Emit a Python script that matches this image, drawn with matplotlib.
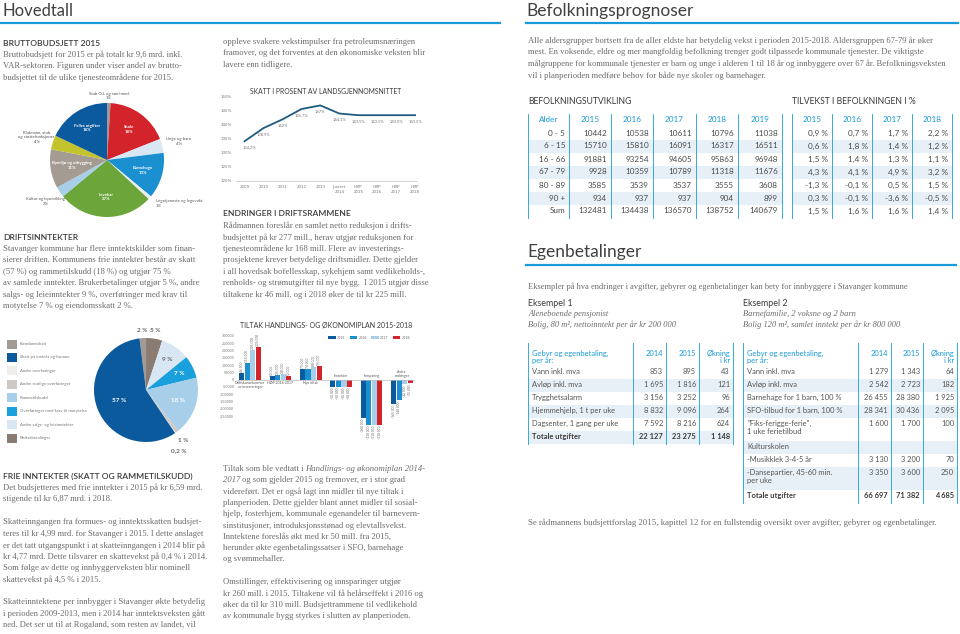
import matplotlib.pyplot as plt
from matplotlib.patches import Rectangle
from matplotlib.lines import Line2D
import numpy as np

# ---------------- data ----------------
budget_labels = ['Stab O.L og særl.med.', 'Skole', 'Unge og barn', 'Barnehage',
                 'Legetjeneste og legevakt', 'Levekår', 'Kultur og byutvikling',
                 'Bymiljø og utbygging', 'Rådmann, stab\nog støttefunksjoner', 'Felles utgifter']
budget_pct = [1, 18, 4, 13, 1, 27, 3, 11, 4, 18]

income_labels = ['Eiendomsskatt', 'Brukerbetalinger', 'Andre salgs- og leieinntekter',
                 'Overføringer med krav til motytelse', 'Rammetilskudd',
                 'Andre statlige overføringer', 'Andre overføringer', 'Skatt på inntekt og formue']
income_pct = [2, 5, 9, 7, 18, 1, 0.2, 57]
legend_order = ['Eiendomsskatt', 'Skatt på inntekt og formue', 'Andre overføringer',
                'Andre statlige overføringer', 'Rammetilskudd',
                'Overføringer med krav til motytelse', 'Andre salgs- og leieinntekter',
                'Brukerbetalinger']

tax_years = ['2009', '2010', '2011', '2012', '2013', 'Justert\n2014',
             'HØP\n2015', 'HØP\n2016', 'HØP\n2017', 'HØP\n2018']
tax_pct = [134.2, 138.9, 142.0, 145.7, 147.0, 144.1, 143.5, 143.5, 143.5, 143.5]

tiltak_groups = ['Driftskonsekvenser\nav investeringer', 'HØP 2014-2017', 'Nye tiltak',
                 'Inntekter', 'Innsparing', 'Andre\nendringer']
tiltak_years = ['2015', '2016', '2017', '2018']
tiltak_2015 = [46000, 22000, 73000, -50000, -260000, -165000]
tiltak_2016 = [115000, 35000, 74000, -50000, -310000, -140000]
tiltak_2017 = [205000, 38000, 88000, -50000, -310000, -32000]
tiltak_2018 = [225000, 22000, 95000, -50000, -310000, -25000]

age_groups = ['0 - 5', '6 - 15', '16 - 66', '67 - 79', '80 - 89', '90 +', 'Sum']
pop_years = ['2015', '2016', '2017', '2018', '2019']
pop_2015 = [10442, 15710, 91881, 9928, 3585, 934, 132481]
pop_2016 = [10538, 15810, 93254, 10359, 3539, 937, 134438]
pop_2017 = [10611, 16091, 94605, 10789, 3537, 937, 136570]
pop_2018 = [10796, 16317, 95863, 11318, 3555, 904, 138752]
pop_2019 = [11038, 16511, 96948, 11676, 3608, 899, 140679]
growth_years = ['2015', '2016', '2017', '2018']
growth_2015 = [0.9, 0.6, 1.5, 4.3, -1.3, 0.3, 1.5]
growth_2016 = [0.7, 1.8, 1.4, 4.1, -0.1, -0.1, 1.6]
growth_2017 = [1.7, 1.4, 1.3, 4.9, 0.5, -3.6, 1.6]
growth_2018 = [2.2, 1.2, 1.1, 3.2, 1.5, -0.5, 1.4]

fee1_items = ['Vann inkl. mva', 'Avløp inkl. mva', 'Trygghetsalarm', 'Hjemmehjelp, 1 t per uke',
              'Dagsenter, 1 gang per uke', 'Totale utgifter']
fee1_2014 = [853, 1695, 3156, 8832, 7592, 22127]
fee1_2015 = [895, 1816, 3252, 9096, 8216, 23275]
fee1_inc = [43, 121, 96, 264, 624, 1148]

fee2_items = ['Vann inkl. mva', 'Avløp inkl. mva', 'Barnehage for 1 barn, 100 %',
              'SFO-tilbud for 1 barn, 100 %', '"Fiks-ferigge-ferie",\n1 uke ferietilbud',
              'Kulturskolen', '-Musikklek 3-4-5 år', '-Dansepartier, 45-60 min.\nper uke',
              'Totale utgifter']
fee2_2014 = [1279, 2542, 26455, 28341, 1600, None, 3130, 3350, 66697]
fee2_2015 = [1343, 2723, 28380, 30436, 1700, None, 3200, 3600, 71382]
fee2_inc = [64, 182, 1925, 2095, 100, None, 70, 250, 4685]

# ---------------- style ----------------
W, H = 960, 634
SERIF = 'Liberation Serif'
SANS = 'Lato'
GREY = '#6e6a6a'
DARK = '#3b3b3b'
BLUE = '#1a9bd7'
SHADE = '#e8f0f7'
C_DARKBLUE = '#0b5a9e'
C_BLUE = '#1a90d0'
C_LIGHTBLUE = '#a8cfea'
C_RED = '#d3242c'
BODY = 6.25
HEAD = 6.1

fig = plt.figure(figsize=(9.6, 6.34), dpi=100)
renderer = fig.canvas.get_renderer()


def fx(x):
    return x / W


def fy(y):
    return 1 - y / H


def txt(x, y, s, size=BODY, color=GREY, family=SERIF, **kw):
    kw.setdefault('va', 'center')
    return fig.text(fx(x), fy(y), s, fontsize=size, color=color, family=family, **kw)


def fit(s, x0, x1, base=6.0, **kw):
    # font size that makes line s run from x0 to x1 (as in the reference)
    t = fig.text(0, 0, s, fontsize=base, family=SERIF, **kw)
    w = t.get_window_extent(renderer).width
    t.remove()
    return base * (x1 - x0) / w


def para(x, y, lines, step=11.45, ref=None, **kw):
    size = BODY
    if ref is not None:
        size = fit(lines[ref[0]], x, ref[1])
    for i, line in enumerate(lines):
        if line:
            txt(x, y + i * step, line, size=size, **kw)
    return size


def heading(x, y, s, size=HEAD):
    txt(x, y, s, size=size, color=DARK, family=SANS, fontweight='semibold')


def hline(x0, x1, y, color=BLUE, lw=1.6):
    fig.add_artist(Line2D([fx(x0), fx(x1)], [fy(y), fy(y)], color=color, lw=lw,
                          transform=fig.transFigure))


def vline(x, y0, y1, color=BLUE, lw=0.6):
    fig.add_artist(Line2D([fx(x), fx(x)], [fy(y0), fy(y1)], color=color, lw=lw,
                          transform=fig.transFigure))


def rect(x0, y0, x1, y1, color):
    fig.add_artist(Rectangle((fx(x0), fy(y1)), (x1 - x0) / W, (y1 - y0) / H,
                             facecolor=color, edgecolor='none', transform=fig.transFigure,
                             zorder=0))


def axes_px(x0, y0, x1, y1):
    return fig.add_axes([fx(x0), fy(y1), (x1 - x0) / W, (y1 - y0) / H])


def num(v):
    return f'{v:,}'.replace(',', ' ')


def pct(v):
    return f'{v:.1f} %'.replace('.', ',')


# ---------------- page headers ----------------
txt(3, 11, 'Hovedtall', size=12, color='#404040', family=SANS)
hline(0, 500, 23)
txt(526, 11, 'Befolkningsprognoser', size=12.5, color='#404040', family=SANS)
hline(526, 958, 23)

# ---------------- left column ----------------
heading(3, 43, 'BRUTTOBUDSJETT 2015')
para(3, 54.5, ['Bruttobudsjett for 2015 er på totalt kr 9,6 mrd. inkl.',
               'VAR-sektoren. Figuren under viser andel av brutto-',
               'budsjettet til de ulike tjenesteområdene for 2015.'])

# pie 1 - brutto budget
ax1 = axes_px(50, 103, 164, 217)
colors1 = ['#9b9b9b', C_RED, '#d8e7f3', C_BLUE, '#e9eef2', '#6ca63b',
           C_LIGHTBLUE, '#a49b93', '#c3c42d', C_DARKBLUE]
wedges, _ = ax1.pie(budget_pct, colors=colors1, startangle=90, counterclock=False,
                    wedgeprops=dict(linewidth=0))
ax1.set_xlim(-1, 1)
ax1.set_ylim(-1, 1)
inside1 = {'Skole': 0.66, 'Barnehage': 0.65, 'Levekår': 0.65,
           'Bymiljø og utbygging': 0.62, 'Felles utgifter': 0.66}
for w, lab, p in zip(wedges, budget_labels, budget_pct):
    ang = np.deg2rad((w.theta1 + w.theta2) / 2)
    r = inside1.get(lab, 1.3)
    col = 'white' if lab in inside1 else '#555555'
    ha = 'center'
    if lab == 'Legetjeneste og legevakt':
        r, ha = 1.15, 'left'
    if lab == 'Stab O.L og særl.med.':
        r = 1.12
    ax1.text(r * np.cos(ang), r * np.sin(ang), f'{lab}\n{p}%', ha=ha, va='center',
             fontsize=3.1, color=col, family=SANS, linespacing=1.15,
             fontweight='bold' if lab in inside1 else 'normal')

heading(3, 237, 'DRIFTSINNTEKTER')
para(3, 249, ['Stavanger kommune har flere inntektskilder som finan-',
              'sierer driften. Kommunens frie inntekter består av skatt',
              '(57 %) og rammetilskudd (18 %) og utgjør 75 %',
              'av samlede inntekter. Brukerbetalinger utgjør 5 %, andre',
              'salgs- og leieinntekter 9 %, overføringer med krav til',
              'motytelse 7 % og eiendomsskatt 2 %.'])

# pie 2 - income
ax2 = axes_px(94, 338, 198, 442)
colors2 = {'Eiendomsskatt': '#a29a94', 'Brukerbetalinger': '#8a7c72',
           'Andre salgs- og leieinntekter': '#d8e7f3',
           'Overføringer med krav til motytelse': '#1aa0dc',
           'Rammetilskudd': C_LIGHTBLUE, 'Andre statlige overføringer': '#cdc8c3',
           'Andre overføringer': '#f1eeea', 'Skatt på inntekt og formue': C_DARKBLUE}
wedges2, _ = ax2.pie(income_pct, colors=[colors2[l] for l in income_labels],
                     startangle=90 + income_pct[0] * 3.6, counterclock=False,
                     wedgeprops=dict(linewidth=0))
ax2.set_xlim(-1, 1)
ax2.set_ylim(-1, 1)
lab_r2 = {'Eiendomsskatt': 1.15, 'Brukerbetalinger': 1.15, 'Andre salgs- og leieinntekter': 0.72,
          'Overføringer med krav til motytelse': 0.72, 'Rammetilskudd': 0.65,
          'Andre statlige overføringer': 1.2, 'Andre overføringer': 1.42,
          'Skatt på inntekt og formue': 0.55}
for w, lab, p in zip(wedges2, income_labels, income_pct):
    ang = np.deg2rad((w.theta1 + w.theta2) / 2)
    r = lab_r2[lab]
    white = lab in ('Overføringer med krav til motytelse', 'Rammetilskudd',
                    'Skatt på inntekt og formue')
    s = (f'{p:g} %').replace('.', ',')
    dx = -0.18 if lab == 'Andre overføringer' else 0
    ax2.text(r * np.cos(ang) + dx, r * np.sin(ang), s, ha='center', va='center',
             fontsize=4.6, color='white' if white else '#666666', family=SANS,
             fontweight='bold')

for i, lab in enumerate(legend_order):
    yy = 344 + i * 13.45
    rect(7, yy - 4.5, 17, yy + 4.5, colors2[lab])
    txt(20, yy, lab, size=3.1, color='#777777', family=SANS)

heading(3, 476, 'FRIE INNTEKTER (SKATT OG RAMMETILSKUDD)')
para(3, 488, ['Det budsjetteres med frie inntekter i 2015 på kr 6,59 mrd.',
              'stigende til kr 6,87 mrd. i 2018.',
              '',
              'Skatteinngangen fra formues- og inntektsskatten budsjet-',
              'teres til kr 4,99 mrd. for Stavanger i 2015. I dette anslaget',
              'er det tatt utgangspunkt i at skatteinngangen i 2014 blir på',
              'kr 4,77 mrd. Dette tilsvarer en skattevekst på 0,4 % i 2014.',
              'Som følge av dette og innbyggerveksten blir nominell',
              'skattevekst på 4,5 % i 2015.',
              '',
              'Skatteinntektene per innbygger i Stavanger økte betydelig',
              'i perioden 2009-2013, men i 2014 har inntektsveksten gått',
              'ned. Det ser ut til at Rogaland, som resten av landet, vil'])

# ---------------- middle column ----------------
para(223, 42, ['oppleve svakere vekstimpulser fra petroleumsnæringen',
               'framover, og det forventes at den økonomiske veksten blir',
               'lavere enn tidligere.'])

txt(326, 91, 'SKATT I PROSENT AV LANDSGJENNOMSNITTET', size=4.9, color=DARK,
    family=SANS, ha='center')
ax3 = axes_px(236, 97, 417, 181)
xs = np.arange(len(tax_pct))
ax3.plot(xs, tax_pct, color='#1f5b80', lw=1.3)
ax3.set_xlim(-0.45, 9.1)
ax3.set_ylim(120, 150)
ax3.set_yticks(np.arange(120, 151, 5))
ax3.set_yticklabels([f'{v}%' for v in range(120, 151, 5)])
ax3.set_xticks(xs)
ax3.set_xticklabels(tax_years)
ax3.tick_params(length=0, labelsize=2.9, labelcolor='#777777', pad=3)
for s in ['top', 'right', 'left']:
    ax3.spines[s].set_visible(False)
ax3.spines['bottom'].set_color('#cccccc')
ax3.spines['bottom'].set_linewidth(0.6)
for x, v in zip(xs, tax_pct):
    lab = (f'{v:g}%' if v == int(v) else f'{v:.1f}%').replace('.', ',')
    ax3.text(x + 0.25 if x == 0 else x, v - 1.5, lab, ha='center', va='top',
             fontsize=2.9, color='#777777', family=SANS)

heading(223, 214, 'ENDRINGER I DRIFTSRAMMENE')
para(223, 226, ['Rådmannen foreslår en samlet netto reduksjon i drifts-',
                'budsjettet på kr 277 mill., herav utgjør reduksjonen for',
                'tjenesteområdene kr 168 mill. Flere av investerings-',
                'prosjektene krever betydelige driftsmidler. Dette gjelder',
                'i all hovedsak bofellesskap, sykehjem samt vedlikeholds-,',
                'renholds- og strømutgifter til nye bygg.  I 2015 utgjør disse',
                'tiltakene kr 46 mill. og i 2018 øker de til kr 225 mill.'])

txt(240, 325, 'TILTAK HANDLINGS- OG ØKONOMIPLAN 2015-2018', size=5.0, color=DARK,
    family=SANS)
ax4 = axes_px(237, 333, 415, 441)
series = [tiltak_2015, tiltak_2016, tiltak_2017, tiltak_2018]
bar_cols = [C_DARKBLUE, C_BLUE, C_LIGHTBLUE, C_RED]
gx = np.arange(len(tiltak_groups))
bw = 0.17
for k, (vals, col, yr) in enumerate(zip(series, bar_cols, tiltak_years)):
    pos = gx + (k - 1.5) * (bw + 0.012)
    ax4.bar(pos, vals, width=bw, color=col, label=yr)
    for p, v in zip(pos, vals):
        ax4.text(p, v + (6000 if v > 0 else -6000), num(v), rotation=90, ha='center',
                 va='bottom' if v > 0 else 'top', fontsize=2.3, color='#666666',
                 family=SANS)
ax4.axhline(0, color='#bbbbbb', lw=0.5)
for i, g in enumerate(tiltak_groups):
    neg = tiltak_2015[i] < 0
    ax4.text(i, 9000 if neg else -9000, g, ha='center', va='bottom' if neg else 'top',
             fontsize=2.5, color='#555555', family=SANS, linespacing=1.1)
ax4.set_xlim(-0.43, 5.43)
ax4.set_ylim(-420000, 320000)
ax4.set_yticks(np.arange(-250000, 300001, 50000))
ax4.set_yticklabels([str(v) for v in range(-250000, 300001, 50000)])
ax4.set_xticks([])
ax4.tick_params(length=0, labelsize=2.4, labelcolor='#777777', pad=2)
for s in ax4.spines.values():
    s.set_visible(False)
ax4.legend(loc='upper right', bbox_to_anchor=(0.99, 1.0), ncol=4, fontsize=2.4,
           frameon=False, handlelength=2.2, handleheight=0.9, columnspacing=1.2,
           handletextpad=0.5, labelcolor='#666666')

# text with italic part
rest = ['videreført. Det er også lagt inn midler til nye tiltak i',
        'planperioden. Dette gjelder blant annet midler til sosial-',
        'hjelp, fosterhjem, kommunale egenandeler til barnevern-',
        'sinstitusjoner, introduksjonsstønad og elevtallsvekst.',
        'Inntektene foreslås økt med kr 50 mill. fra 2015,',
        'herunder økte egenbetalingssatser i SFO, barnehage',
        'og svømmehaller.',
        '',
        'Omstillinger, effektivisering og innsparinger utgjør',
        'kr 260 mill. i 2015. Tiltakene vil få helårseffekt i 2016 og',
        'øker da til kr 310 mill. Budsjettrammene til vedlikehold',
        'av kommunale bygg styrkes i slutten av planperioden.']
ms = para(223, 491.6, rest, step=11.3)
r0 = txt(223, 469, 'Tiltak som ble vedtatt i', size=ms)
x_it = 223 + r0.get_window_extent(renderer).width + ms * 0.3
txt(x_it, 469, 'Handlings- og økonomiplan 2014-', size=ms, style='italic')
r1 = txt(223, 480.3, '2017', size=ms, style='italic')
txt(223 + r1.get_window_extent(renderer).width + ms * 0.3, 480.3,
    'og som gjelder 2015 og fremover, er i stor grad', size=ms)

# ---------------- right column ----------------
para(528, 41, ['Alle aldersgrupper bortsett fra de aller eldste har betydelig vekst i perioden '
               '2015-2018. Aldersgruppen 67-79 år øker',
               'mest. En voksende, eldre og mer mangfoldig befolkning trenger godt tilpassede '
               'kommunale tjenester. De viktigste',
               'målgruppene for kommunale tjenester er barn og unge i alderen 1 til 18 år og '
               'innbyggere over 67 år. Befolkningsveksten',
               'vil i planperioden medføre behov for både nye skoler og barnehager.'],
     ref=(2, 950))

txt(528, 102, 'BEFOLKNINGSUTVIKLING', size=6.25, color=DARK, family=SANS)
txt(792, 102, 'TILVEKST I BEFOLKNINGEN I %', size=6.25, color=DARK, family=SANS)

TS = 5.9
pop_cols = [pop_2015, pop_2016, pop_2017, pop_2018, pop_2019]
gr_cols = [growth_2015, growth_2016, growth_2017, growth_2018]
e1 = [528, 569, 611, 653, 696, 738, 782]
e2 = [792, 832, 872, 912, 952]
top, hh, rh = 113.5, 13, 13
for i in range(len(age_groups)):
    yc = top + hh + rh * i + rh / 2
    if i % 2 == 1:
        rect(e1[0], yc - rh / 2, e1[-1], yc + rh / 2, SHADE)
        rect(e2[0], yc - rh / 2, e2[-1], yc + rh / 2, SHADE)
    txt(e1[1] - 4, yc, age_groups[i], size=TS, color='#4a4a4a', family=SANS, ha='right')
    for c, col in enumerate(pop_cols):
        txt(e1[c + 2] - 4, yc, str(col[i]), size=TS, color='#4a4a4a', family=SANS, ha='right')
    for c, col in enumerate(gr_cols):
        txt(e2[c + 1] - 4, yc, pct(col[i]), size=TS, color='#4a4a4a', family=SANS, ha='right')
bottom = top + hh + rh * len(age_groups)
for c, lab in enumerate(['Alder'] + pop_years):
    txt((e1[c] + e1[c + 1]) / 2, top + hh / 2, lab, size=TS, color=BLUE, family=SANS, ha='center')
for c, lab in enumerate(growth_years):
    txt((e2[c] + e2[c + 1]) / 2, top + hh / 2, lab, size=TS, color=BLUE, family=SANS, ha='center')
for x in e1 + e2:
    vline(x, top, bottom)

txt(527, 252, 'Egenbetalinger', size=12.5, color='#404040', family=SANS)
hline(526, 956, 265)
intro = ('Eksempler på hva endringer i avgifter, gebyrer og egenbetalinger kan bety '
         'for innbyggere i Stavanger kommune')
es = para(528, 287, [intro], ref=(0, 908))
txt(528, 303, 'Eksempel 1', size=6.4, color=DARK, family=SANS)
txt(528, 314, 'Aleneboende pensjonist', size=es, style='italic')
txt(528, 325, 'Bolig, 80 m², nettoinntekt per år kr 200 000', size=es, style='italic')
txt(743, 303, 'Eksempel 2', size=6.4, color=DARK, family=SANS)
txt(743, 314, 'Barnefamilie, 2 voksne og 2 barn', size=es, style='italic')
txt(743, 325, 'Bolig 120 m², samlet inntekt per år kr 800 000', size=es, style='italic')


def fee_table(edges, items, v14, v15, vinc, heights, shaded):
    fs = 5.4
    top = 343
    hdr = 23
    txt(edges[0] + 4, top + 7, 'Gebyr og egenbetaling,\nper år:', size=fs, color=BLUE,
        family=SANS, va='top', linespacing=1.0)
    txt(edges[2] - 3, top + 7, '2014', size=fs, color=BLUE, family=SANS, va='top', ha='right')
    txt(edges[3] - 3, top + 7, '2015', size=fs, color=BLUE, family=SANS, va='top', ha='right')
    txt(edges[4] - 3, top + 7, 'Økning\ni kr', size=fs, color=BLUE, family=SANS, va='top',
        ha='right', linespacing=1.0, multialignment='right')
    y = top + hdr
    for i, item in enumerate(items):
        h = heights[i]
        if i in shaded:
            rect(edges[0], y, edges[-1], y + h, SHADE)
        last = i == len(items) - 1
        wt = 'bold' if last else 'normal'
        col = '#3a3a3a' if last else '#555555'
        yt = y + 1.8
        txt(edges[0] + 4, yt, item, size=fs, color=col, family=SANS, va='top',
            fontweight=wt, linespacing=1.2)
        for c, vals in enumerate([v14, v15, vinc]):
            if vals[i] is not None:
                txt(edges[c + 2] - 3, yt, num(vals[i]), size=fs, color=col, family=SANS,
                    va='top', ha='right', fontweight=wt)
        y += h
    for x in edges:
        vline(x, top, y)


fee_table([528, 633, 666, 699, 733], fee1_items, fee1_2014, fee1_2015, fee1_inc,
          [13] * len(fee1_items), {1, 3, 5})
fee_table([743, 858, 891, 923, 957], fee2_items, fee2_2014, fee2_2015, fee2_inc,
          [13, 13, 13, 13, 23, 13, 13, 23, 13], {1, 3, 5, 7})

foot = ('Se rådmannens budsjettforslag 2015, kapittel 12 for en fullstendig oversikt '
        'over avgifter, gebyrer og egenbetalinger.')
para(528, 523, [foot], ref=(0, 938))

fig.savefig('out.png', dpi=100)
